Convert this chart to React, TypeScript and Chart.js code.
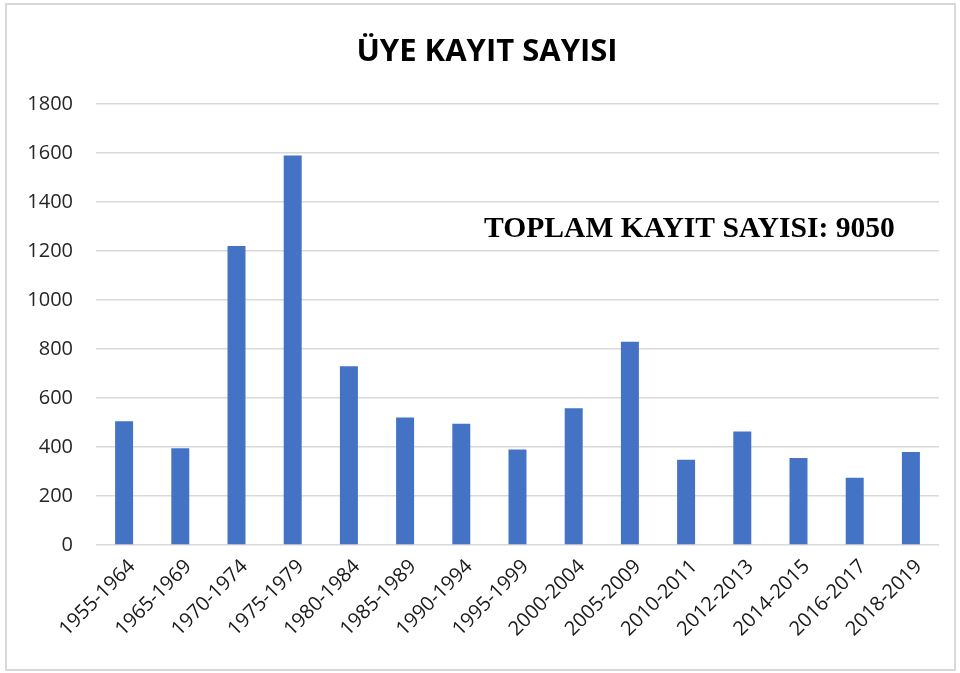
import React, { useEffect, useRef } from "react";
import { Chart, registerables } from "chart.js";

Chart.register(...registerables);

const categories = [
  "1955-1964", "1965-1969", "1970-1974", "1975-1979", "1980-1984",
  "1985-1989", "1990-1994", "1995-1999", "2000-2004", "2005-2009",
  "2010-2011", "2012-2013", "2014-2015", "2016-2017", "2018-2019",
];
const registrations = [505, 395, 1220, 1590, 730, 520, 495, 390, 558, 830, 348, 463, 355, 275, 380];
const chartTitle = "ÜYE KAYIT SAYISI";
const totalNote = "TOPLAM KAYIT SAYISI: 9050";
const yMin = 0;
const yMax = 1800;
const yStep = 200;

const textPlugin = {
  id: "chartTexts",
  afterDraw(chart: any) {
    const { ctx, chartArea } = chart;
    ctx.save();
    ctx.fillStyle = "#000000";
    ctx.font = "bold 31px 'Open Sans', sans-serif";
    ctx.textAlign = "center";
    ctx.textBaseline = "middle";
    ctx.fillText(chartTitle, chartArea.left + 391, chartArea.top - 52);
    ctx.font = "bold 29.6px 'Liberation Serif', 'Times New Roman', serif";
    ctx.textAlign = "left";
    ctx.textBaseline = "alphabetic";
    ctx.fillText(totalNote, chartArea.left + 388, chartArea.top + 133);
    ctx.restore();
  },
};

export default function App() {
  const canvasRef = useRef<HTMLCanvasElement | null>(null);

  useEffect(() => {
    document.body.style.margin = "0";
    const canvas = canvasRef.current;
    if (!canvas) return;
    const chart = new Chart(canvas, {
      type: "bar",
      data: {
        labels: categories,
        datasets: [
          {
            label: "Üye kayıt sayısı",
            data: registrations,
            backgroundColor: "#4472C4",
            borderWidth: 0,
            categoryPercentage: 1,
            barPercentage: 0.32,
          },
        ],
      },
      options: {
        animation: false,
        responsive: false,
        maintainAspectRatio: false,
        layout: { padding: { left: 0, right: 15, top: 99, bottom: 0 } },
        plugins: {
          legend: { display: false },
          tooltip: { enabled: false },
          title: { display: false },
        },
        scales: {
          x: {
            grid: { display: false, drawTicks: false },
            border: { display: false },
            ticks: {
              color: "#1a1a1a",
              font: { family: "'Open Sans', sans-serif", size: 20 },
              maxRotation: 45,
              minRotation: 45,
              padding: 10,
              labelOffset: 8,
              autoSkip: false,
            },
            afterFit(scale: any) {
              scale.height = 124;
            },
          },
          y: {
            min: yMin,
            max: yMax,
            grid: { color: "#d9d9d9", lineWidth: 1.5, drawTicks: false },
            border: { display: false },
            ticks: {
              stepSize: yStep,
              color: "#262626",
              font: { family: "'Open Sans', sans-serif", size: 20 },
              padding: 23,
              callback: (v: any) => String(v),
            },
            afterFit(scale: any) {
              scale.width = 89;
            },
          },
        },
      },
      plugins: [textPlugin],
    });
    return () => chart.destroy();
  }, []);

  return (
    <div style={{ position: "relative", width: 960, height: 673, background: "#ffffff" }}>
      <div
        style={{
          position: "absolute",
          left: 5,
          top: 3,
          width: 951,
          height: 668,
          border: "2px solid #d9d9d9",
          boxSizing: "border-box",
        }}
      />
      <canvas
        ref={canvasRef}
        width={947}
        height={664}
        style={{ position: "absolute", left: 7, top: 5, width: 947, height: 664 }}
      />
    </div>
  );
}
